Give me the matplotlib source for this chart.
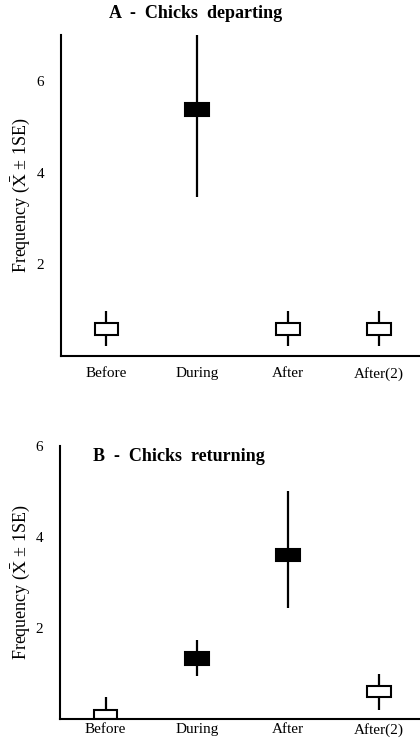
import matplotlib
matplotlib.use('Agg')
import matplotlib.pyplot as plt

plt.rcParams['font.family'] = ['Liberation Serif', 'DejaVu Serif']
plt.rcParams['mathtext.fontset'] = 'stix'

periods = ['Before', 'During', 'After', 'After(2)']

# panel A - chicks departing
dep_box_lo = [0.46, 5.23, 0.46, 0.46]
dep_box_hi = [0.73, 5.51, 0.73, 0.73]
dep_err_lo = [0.22, 3.47, 0.22, 0.22]
dep_err_hi = [0.99, 7.00, 0.99, 0.99]
dep_filled = [False, True, False, False]

# panel B - chicks returning
ret_box_lo = [0.00, 1.18, 3.47, 0.47]
ret_box_hi = [0.20, 1.47, 3.73, 0.73]
ret_err_lo = [0.20, 0.95, 2.44, 0.20]
ret_err_hi = [0.47, 1.73, 5.00, 0.98]
ret_filled = [False, True, True, False]

ylabel = 'Frequency ($\\bar{\\mathrm{X}}$ \u00b1 1SE)'


def draw_panel(ax, box_lo, box_hi, err_lo, err_hi, filled, ymax, xpad):
    x = list(range(len(periods)))
    ax.vlines(x, err_lo, err_hi, color='black', linewidth=1.6, zorder=1)
    for i in x:
        ax.bar(i, box_hi[i] - box_lo[i], bottom=box_lo[i], width=0.26,
               color='black' if filled[i] else 'white',
               edgecolor='black', linewidth=1.5, zorder=2)
    ax.set_xlim(-0.5, 3.45)
    ax.set_ylim(0, ymax)
    ax.set_xticks(x)
    ax.set_xticklabels(periods, fontsize=11)
    ax.set_yticks([2, 4, 6])
    ax.tick_params(length=0)
    ax.tick_params(axis='y', pad=12, labelsize=11)
    ax.tick_params(axis='x', pad=xpad)
    for s in ['top', 'right']:
        ax.spines[s].set_visible(False)
    for s in ['left', 'bottom']:
        ax.spines[s].set_linewidth(1.5)
    ax.set_ylabel(ylabel, fontsize=13, labelpad=3)


fig = plt.figure(figsize=(4.2, 7.48), dpi=100)
ax1 = fig.add_axes([0.145, 0.524, 0.855, 0.429])
ax2 = fig.add_axes([0.143, 0.039, 0.857, 0.365])

draw_panel(ax1, dep_box_lo, dep_box_hi, dep_err_lo, dep_err_hi, dep_filled, 7, 8)
draw_panel(ax2, ret_box_lo, ret_box_hi, ret_err_lo, ret_err_hi, ret_filled, 6, 3)

fig.text(0.465, 0.982, 'A  -  Chicks  departing', ha='center', va='center',
         fontsize=13, fontweight='bold')
ax2.text(0.33, 0.96, 'B  -  Chicks  returning', transform=ax2.transAxes,
         ha='center', va='center', fontsize=13, fontweight='bold')

fig.savefig('out.png', dpi=100)
